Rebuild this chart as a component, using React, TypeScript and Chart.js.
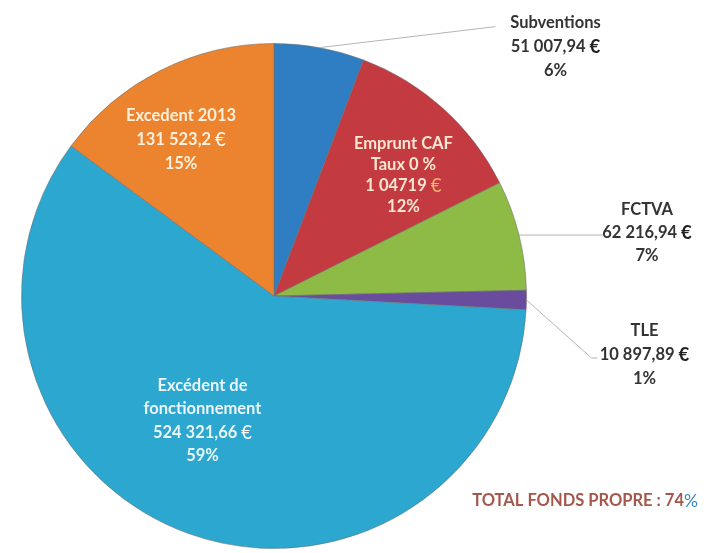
import React, { useEffect, useRef } from 'react';
import { Chart, registerables } from 'chart.js';

Chart.register(...registerables);

// ---- Data ----
const categories = ['Subventions', 'Emprunt CAF', 'FCTVA', 'TLE', 'Excédent de fonctionnement', 'Excedent 2013'];
const values = [51007.94, 104719, 62216.94, 10897.89, 524321.66, 131523.2];
const nameLines = [['Subventions'], ['Emprunt CAF', 'Taux 0 %'], ['FCTVA'], ['TLE'], ['Excédent de', 'fonctionnement'], ['Excedent 2013']];
const amountLabels = ['51 007,94', '1 04719', '62 216,94', '10 897,89', '524 321,66', '131 523,2'];
const fondsPropresIdx = [4, 5];
const totalLabel = 'TOTAL FONDS PROPRE : ';

// ---- Styles ----
const colors = ['#2f7ec3', '#c33a40', '#8dbb46', '#6a4c9f', '#2ba7d0', '#ec832e'];
const FONT = 'Lato, "Open Sans", sans-serif';
const FS = 16.5;

type Place =
  | { kind: 'inner'; r: number; da: number; lh: number; color: string; euroColor: string }
  | { kind: 'outer'; line: [number, number][]; text: [number, number]; lh: number };

const placement: Place[] = [
  { kind: 'outer', line: [[176, -21]], text: [236, -1], lh: 24 },
  { kind: 'inner', r: 0.7, da: 5, lh: 21, color: '#fbe6d2', euroColor: '#f7b46e' },
  { kind: 'outer', line: [[85, 0]], text: [128, -2], lh: 23 },
  { kind: 'outer', line: [[65, 58], [71, 58]], text: [118, 55], lh: 24 },
  { kind: 'inner', r: 0.57, da: 10, lh: 23.5, color: '#eaf6fa', euroColor: '#ffffff' },
  { kind: 'inner', r: 0.72, da: -4, lh: 24, color: '#fdf0dc', euroColor: '#ffffff' },
];

const total = values.reduce((a, b) => a + b, 0);
const pct = (v: number) => Math.round((v / total) * 100);

const labelPlugin = {
  id: 'pieLabels',
  afterDraw(chart: any) {
    const ctx = chart.ctx as CanvasRenderingContext2D;
    const meta = chart.getDatasetMeta(0);
    ctx.save();
    ctx.textBaseline = 'middle';
    meta.data.forEach((arc: any, i: number) => {
      const p = placement[i];
      const { x, y, startAngle, endAngle, outerRadius } = arc.getProps(['x', 'y', 'startAngle', 'endAngle', 'outerRadius'], true);
      const mid = (startAngle + endAngle) / 2;
      const lines: { text: string; euro?: boolean }[] = [
        ...nameLines[i].map((t) => ({ text: t })),
        { text: amountLabels[i], euro: true },
        { text: pct(values[i]) + '%' },
      ];
      let cx: number, cy: number, color: string, euroColor: string, euroBold: boolean;
      if (p.kind === 'inner') {
        const a = mid + (p.da * Math.PI) / 180;
        cx = x + Math.cos(a) * outerRadius * p.r;
        cy = y + Math.sin(a) * outerRadius * p.r;
        color = p.color;
        euroColor = p.euroColor;
        euroBold = false;
      } else {
        const ex = x + Math.cos(mid) * outerRadius;
        const ey = y + Math.sin(mid) * outerRadius;
        ctx.strokeStyle = '#b4b4b4';
        ctx.lineWidth = 1;
        ctx.beginPath();
        ctx.moveTo(ex, ey);
        p.line.forEach(([dx, dy]) => ctx.lineTo(ex + dx, ey + dy));
        ctx.stroke();
        cx = ex + p.text[0];
        cy = ey + p.text[1];
        color = '#333333';
        euroColor = '#222222';
        euroBold = true;
      }
      const n = lines.length;
      lines.forEach((ln, k) => {
        const ly = cy + (k - (n - 1) / 2) * p.lh;
        const boldFont = `bold ${FS}px ${FONT}`;
        if (ln.euro) {
          const euroFont = `${euroBold ? 'bold' : 'normal'} ${FS + 2}px ${FONT}`;
          ctx.font = boldFont;
          const w1 = ctx.measureText(ln.text + ' ').width;
          ctx.font = euroFont;
          const w2 = ctx.measureText('€').width;
          const x0 = cx - (w1 + w2) / 2;
          ctx.textAlign = 'left';
          ctx.font = boldFont;
          ctx.fillStyle = color;
          ctx.fillText(ln.text + ' ', x0, ly);
          ctx.font = euroFont;
          ctx.fillStyle = euroColor;
          ctx.fillText('€', x0 + w1, ly);
        } else {
          ctx.font = boldFont;
          ctx.textAlign = 'center';
          ctx.fillStyle = color;
          ctx.fillText(ln.text, cx, ly);
        }
      });
    });
    const fp = Math.round((fondsPropresIdx.reduce((s, i) => s + values[i], 0) / total) * 100);
    const t1 = totalLabel + fp;
    ctx.font = `bold ${FS}px ${FONT}`;
    const w1 = ctx.measureText(t1).width;
    ctx.font = `normal ${FS + 1}px ${FONT}`;
    const w2 = ctx.measureText('%').width;
    const right = chart.width - 22;
    const ty = 501;
    ctx.textAlign = 'left';
    ctx.font = `bold ${FS}px ${FONT}`;
    ctx.fillStyle = '#a4584c';
    ctx.fillText(t1, right - w1 - w2, ty);
    ctx.font = `normal ${FS + 1}px ${FONT}`;
    ctx.fillStyle = '#3b86c4';
    ctx.fillText('%', right - w2, ty);
    ctx.restore();
  },
};

export default function App() {
  const ref = useRef<HTMLCanvasElement | null>(null);
  useEffect(() => {
    if (!ref.current) return;
    const chart = new Chart(ref.current, {
      type: 'pie',
      data: {
        labels: categories,
        datasets: [
          {
            data: values,
            backgroundColor: colors,
            borderColor: 'rgba(110,110,110,0.55)',
            borderWidth: 1,
          },
        ],
      },
      options: {
        responsive: false,
        animation: false,
        layout: { padding: { left: 20, right: 192, top: 43, bottom: 4 } },
        plugins: { legend: { display: false }, tooltip: { enabled: false } },
      },
      plugins: [labelPlugin],
    });
    return () => chart.destroy();
  }, []);
  return (
    <div style={{ position: 'fixed', left: 0, top: 0, width: 720, height: 553, background: '#fff' }}>
      <canvas ref={ref} width={720} height={553} />
    </div>
  );
}
